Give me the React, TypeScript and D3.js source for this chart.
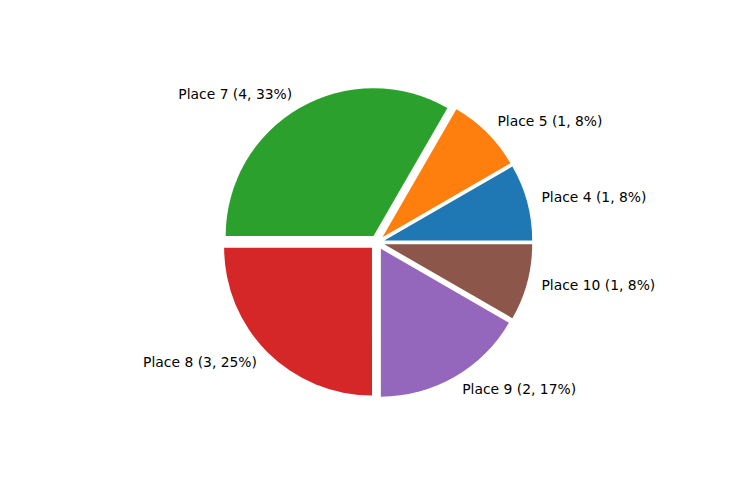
import React from "react";
import * as d3 from "d3";

const categories = ["Place 4", "Place 5", "Place 7", "Place 8", "Place 9", "Place 10"];
const counts = [1, 1, 4, 3, 2, 1];
const colors = ["#1f77b4", "#ff7f0e", "#2ca02c", "#d62728", "#9467bd", "#8c564b"];

const W = 736;
const H = 480;

export default function App() {
  const axW = 0.775 * W;
  const axH = 0.77 * H;
  const cx = 0.125 * W + axW / 2;
  const cy = H - (0.11 * H + axH / 2);
  const R = Math.min(axW, axH) / 2.5;
  const explode = 0.05 * R;
  const total = d3.sum(counts);

  const pie = d3
    .pie<number>()
    .sort(null)
    .value((d) => d)
    .startAngle(Math.PI / 2)
    .endAngle(Math.PI / 2 - 2 * Math.PI);
  const arcs = pie(counts);
  const arcGen = d3.arc<any>().innerRadius(0).outerRadius(R);

  return (
    <svg width={W} height={H} style={{ display: "block", position: "absolute", left: 0, top: 0 }}>
      <rect width={W} height={H} fill="#fff" />
      {arcs.map((a, i) => {
        const mid = (a.startAngle + a.endAngle) / 2;
        const dx = Math.sin(mid) * explode;
        const dy = -Math.cos(mid) * explode;
        const lx = cx + Math.sin(mid) * R * 1.1 + dx;
        const ly = cy - Math.cos(mid) * R * 1.1 + dy;
        const pct = Math.round((counts[i] / total) * 100);
        return (
          <g key={i}>
            <path
              transform={`translate(${cx + dx},${cy + dy})`}
              d={
                arcGen({
                  startAngle: Math.min(a.startAngle, a.endAngle),
                  endAngle: Math.max(a.startAngle, a.endAngle),
                }) || ""
              }
              fill={colors[i]}
            />
            <text
              x={lx}
              y={ly + 3.9}
              textAnchor={lx > cx ? "start" : "end"}
              fontFamily="DejaVu Sans"
              fontSize={13.89}
              fill="#000"
            >
              {`${categories[i]} (${counts[i]}, ${pct}%)`}
            </text>
          </g>
        );
      })}
    </svg>
  );
}
